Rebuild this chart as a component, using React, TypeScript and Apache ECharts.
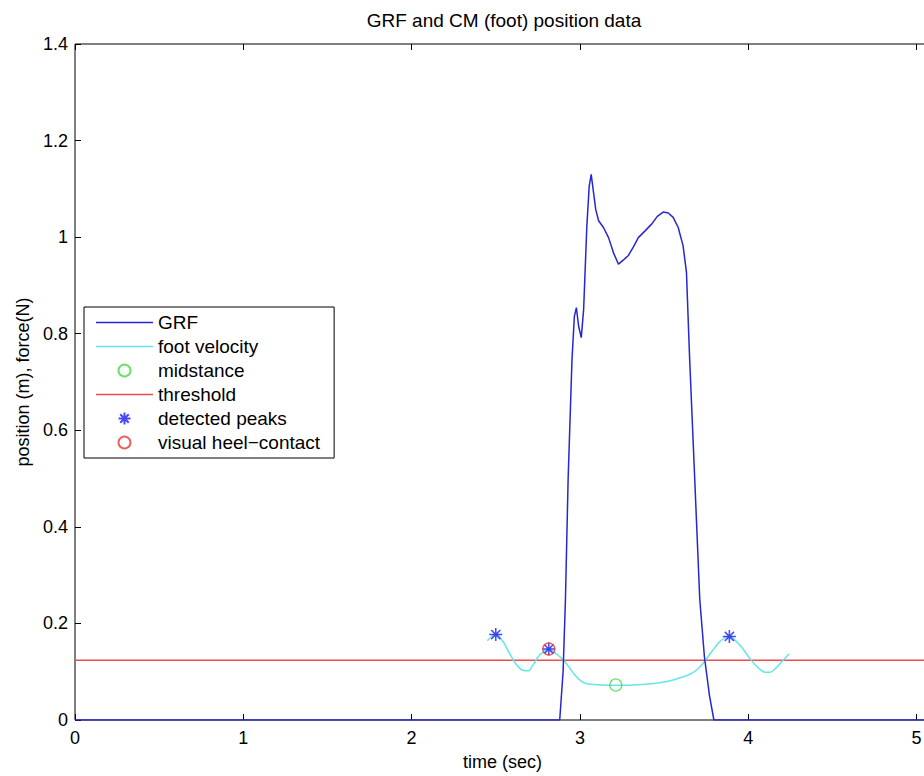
import React, { useEffect, useRef } from "react";
import * as echarts from "echarts";

// GRF (ground reaction force) trace
const grfTime = [0, 2.88, 2.9, 2.914, 2.93, 2.953, 2.967, 2.979, 2.992, 3.008, 3.022, 3.041, 3.055, 3.067, 3.081, 3.094, 3.111, 3.14, 3.17, 3.2, 3.229, 3.259, 3.288, 3.318, 3.347, 3.387, 3.426, 3.46, 3.495, 3.525, 3.554, 3.584, 3.613, 3.633, 3.652, 3.682, 3.712, 3.74, 3.77, 3.796, 5.08];
const grfValue = [0, 0, 0.1, 0.25, 0.5, 0.747, 0.836, 0.854, 0.816, 0.792, 0.85, 1.022, 1.105, 1.13, 1.092, 1.057, 1.034, 1.02, 0.999, 0.967, 0.944, 0.953, 0.962, 0.98, 0.999, 1.013, 1.027, 1.043, 1.052, 1.05, 1.041, 1.02, 0.982, 0.927, 0.747, 0.5, 0.25, 0.13, 0.05, 0, 0];

// foot velocity trace
const velTime = [2.45, 2.475, 2.5, 2.54, 2.579, 2.62, 2.66, 2.693, 2.72, 2.75, 2.775, 2.815, 2.845, 2.874, 2.904, 2.94, 2.973, 3.005, 3.041, 3.1, 3.16, 3.213, 3.28, 3.34, 3.387, 3.45, 3.51, 3.564, 3.61, 3.66, 3.702, 3.751, 3.79, 3.83, 3.862, 3.889, 3.92, 3.96, 4.017, 4.06, 4.1, 4.131, 4.16, 4.2, 4.243];
const velValue = [0.164, 0.173, 0.178, 0.164, 0.14, 0.116, 0.103, 0.102, 0.113, 0.13, 0.139, 0.147, 0.141, 0.133, 0.123, 0.107, 0.092, 0.081, 0.075, 0.073, 0.072, 0.072, 0.072, 0.073, 0.074, 0.076, 0.079, 0.084, 0.089, 0.096, 0.106, 0.126, 0.145, 0.162, 0.17, 0.173, 0.166, 0.151, 0.124, 0.108, 0.099, 0.099, 0.106, 0.121, 0.137];

// markers
const midstanceTime = [3.213];
const midstanceValue = [0.0725];
const peakTime = [2.5, 2.815, 3.888];
const peakValue = [0.177, 0.147, 0.173];
const heelTime = [2.815];
const heelValue = [0.147];

const thresholdValue = 0.124;
const thresholdRange = [0, 5.08];

const xMin = 0;
const xMax = 5.08;
const yMin = 0;
const yMax = 1.4;

const legendNames = ["GRF", "foot velocity", "midstance", "threshold", "detected peaks", "visual heel\u2212contact"];

const zip = (xs: number[], ys: number[]) => xs.map((x, i) => [x, ys[i]]);

const FONT = "'Liberation Sans', Arial, Helvetica, sans-serif";
const STAR = "path://M0,-10L0,10M-10,0L10,0M-7.07,-7.07L7.07,7.07M-7.07,7.07L7.07,-7.07";
const LINE_ICON = "path://M0,0H57V1.5H0Z";

export default function App() {
  const ref = useRef<HTMLDivElement>(null);
  useEffect(() => {
    if (!ref.current) return;
    const chart = echarts.init(ref.current, undefined, { renderer: "svg" });
    const xAxisCommon = {
      type: "value",
      min: xMin,
      max: xMax,
      interval: 1,
      splitLine: { show: false },
      axisLine: { show: false },
      axisTick: { show: true, inside: true, length: 6, lineStyle: { color: "#000", width: 1 } },
    };
    const lineNames = new Set(["GRF", "foot velocity", "threshold"]);
    chart.setOption({
      animation: false,
      backgroundColor: "#fff",
      textStyle: { fontFamily: FONT },
      title: {
        text: "GRF and CM (foot) position data",
        left: 504,
        top: 11,
        textAlign: "center",
        padding: 0,
        textStyle: { fontFamily: FONT, fontSize: 19, fontWeight: "normal", color: "#000" },
      },
      grid: {
        left: 75,
        right: 0,
        top: 44,
        bottom: 55,
        show: true,
        borderColor: "#000",
        borderWidth: 1,
        backgroundColor: "#fff",
      },
      legend: {
        orient: "vertical",
        left: 84,
        top: 307,
        padding: [6, 14, 6, 12],
        itemGap: 5,
        itemWidth: 57,
        itemHeight: 12,
        backgroundColor: "#fff",
        borderColor: "#000",
        borderWidth: 1,
        borderRadius: 0,
        textStyle: { fontFamily: FONT, fontSize: 19, lineHeight: 18, color: "#000" },
        data: legendNames.map((n) => (lineNames.has(n) ? { name: n, icon: LINE_ICON } : { name: n })),
      },
      xAxis: [
        {
          ...xAxisCommon,
          position: "bottom",
          name: "time (sec)",
          nameLocation: "middle",
          nameGap: 33,
          nameTextStyle: { fontFamily: FONT, fontSize: 18, color: "#000" },
          axisLabel: {
            show: true,
            margin: 9,
            fontFamily: FONT,
            fontSize: 18,
            color: "#000",
            formatter: (v: number) => (v > 5 ? "" : String(v)),
          },
        },
        {
          ...xAxisCommon,
          position: "top",
          axisLabel: { show: false },
        },
      ],
      yAxis: {
        type: "value",
        min: yMin,
        max: yMax,
        interval: 0.2,
        splitLine: { show: false },
        axisLine: { show: false },
        axisTick: { show: true, inside: true, length: 6, lineStyle: { color: "#000", width: 1 } },
        axisLabel: { margin: 7, fontFamily: FONT, fontSize: 18, color: "#000" },
        name: "position (m), force(N)",
        nameLocation: "middle",
        nameGap: 42,
        nameTextStyle: { fontFamily: FONT, fontSize: 18, color: "#000" },
      },
      series: [
        {
          name: "GRF",
          type: "line",
          data: zip(grfTime, grfValue),
          symbol: "none",
          smooth: false,
          lineStyle: { color: "#2626d4", width: 1.5 },
          itemStyle: { color: "#2626d4" },
          z: 3,
        },
        {
          name: "foot velocity",
          type: "line",
          data: zip(velTime, velValue),
          symbol: "none",
          smooth: 0.3,
          lineStyle: { color: "#62e6e6", width: 1.5 },
          itemStyle: { color: "#62e6e6" },
          z: 2,
        },
        {
          name: "midstance",
          type: "scatter",
          data: zip(midstanceTime, midstanceValue),
          symbol: "circle",
          symbolSize: 12,
          itemStyle: { color: "rgba(0,0,0,0)", borderColor: "#45d845", borderWidth: 1.3 },
          z: 4,
        },
        {
          name: "threshold",
          type: "line",
          data: zip(thresholdRange, [thresholdValue, thresholdValue]),
          symbol: "none",
          lineStyle: { color: "#ec4e4e", width: 1.5 },
          itemStyle: { color: "#ec4e4e" },
          z: 1,
        },
        {
          name: "detected peaks",
          type: "scatter",
          data: zip(peakTime, peakValue),
          symbol: STAR,
          symbolSize: 13,
          symbolKeepAspect: true,
          itemStyle: { color: "#1a1af0", borderColor: "#1a1af0", borderWidth: 1.5 },
          z: 5,
        },
        {
          name: "visual heel\u2212contact",
          type: "scatter",
          data: zip(heelTime, heelValue),
          symbol: "circle",
          symbolSize: 12,
          itemStyle: { color: "rgba(0,0,0,0)", borderColor: "#e23c3c", borderWidth: 1.4 },
          z: 6,
        },
      ],
    });
    return () => chart.dispose();
  }, []);
  return <div ref={ref} style={{ width: 933, height: 776, position: "fixed", left: 0, top: 0 }} />;
}
